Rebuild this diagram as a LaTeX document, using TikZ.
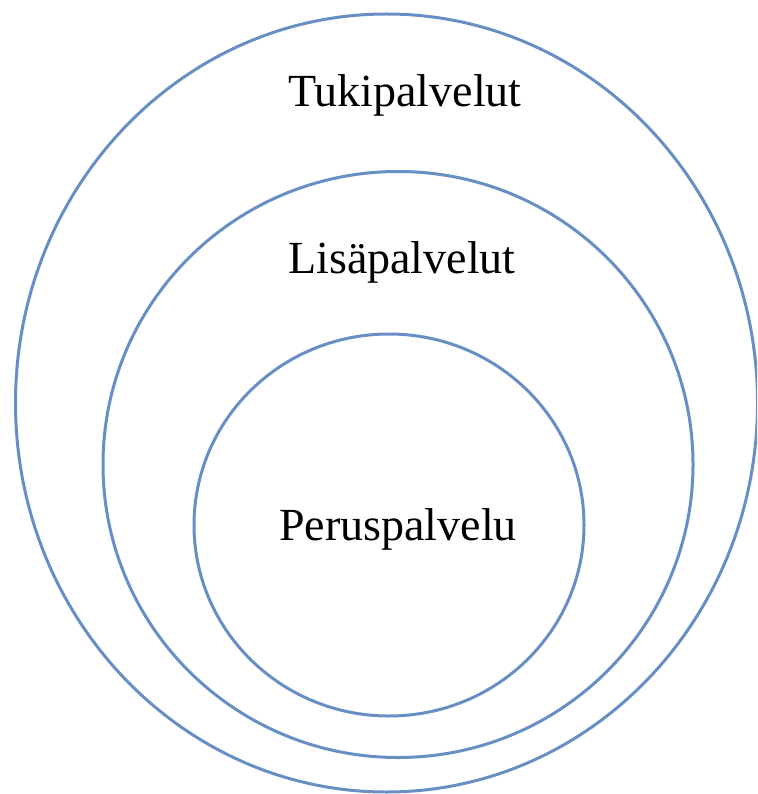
\documentclass[tikz,border=0pt]{standalone}
\usepackage{fontspec}
\usetikzlibrary{shapes.geometric}
\setmainfont{Liberation Serif}
\definecolor{ringblue}{RGB}{104,143,196}
\begin{document}
\begin{tikzpicture}[x=1pt,y=-1pt,
  ring/.style={ellipse,draw=ringblue,line width=3pt,inner sep=0pt,outer sep=0pt},
  label/.style={font=\fontsize{46}{54}\selectfont,text=black,inner sep=0pt,anchor=base}]
\useasboundingbox (0,0) rectangle (757,794);
\clip (0,0) rectangle (757,794);
\node[ring,minimum width=742pt,minimum height=778pt] (outer) at (386.5,403) {};
\node[ring,minimum width=590pt,minimum height=586pt] (middle) at (398,464.5) {};
\node[ring,minimum width=390pt,minimum height=382pt] (inner) at (389,525) {};
\node[label] (tuki) at (405,107) {Tukipalvelut};
\node[label] (lisa) at (402,273) {Lisäpalvelut};
\node[label] (perus) at (398,540) {Peruspalvelu};
\end{tikzpicture}
\end{document}
